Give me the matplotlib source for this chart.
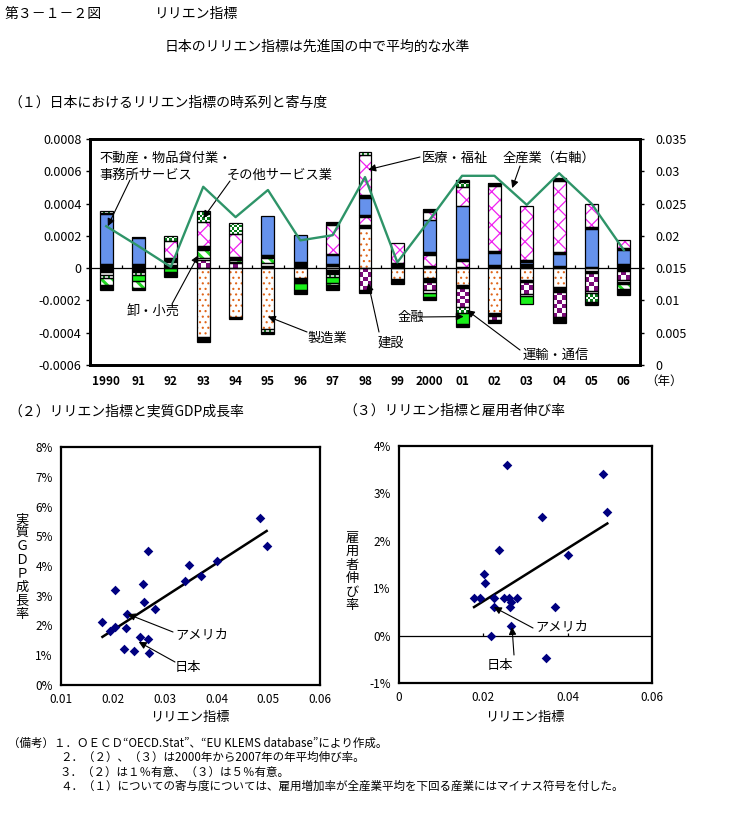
import numpy as np
import matplotlib
matplotlib.use('Agg')
import matplotlib.pyplot as plt
from matplotlib.colors import ListedColormap

plt.rcParams['font.family'] = ['Noto Sans CJK JP', 'DejaVu Sans']

# ---------------- data: chart (1) ----------------
years = ['1990', '91', '92', '93', '94', '95', '96', '97', '98', '99',
         '2000', '01', '02', '03', '04', '05', '06']
UNIT = 1e-5  # contributions below are in units of 1e-5

manufacturing = [0, 0, 0, -42.5, -30, -38, -6, -1, 24.6, -7, -6.3, -10.5, -28, -7.5, -11.6, -1.8, 0]
other_black1 = [-2.5, -1.5, 2, -3, -1.3, 1.5, -3, -2, 2, -1.5, -2, -2, -1.5, -1, -3, -1.5, -1.5]
construction = [0, 0, 0, 5, 3, 0, 0, -0.5, -13.3, 0, -5, -11.5, -2.7, -7.5, -15.5, -11, -6]
other_white = [-1.8, -1, 2, 1, 1, 1.5, -0.5, 1.5, 0, 0, -2, 0, 0, -1.5, 0, -1, -0.8]
transport = [-2, -2, 0, 0, 0, -1.4, 1, -2, -0.8, 0, 0, -3.7, 0, 1, 0, -5.6, -0.8]
finance = [0, -3.5, -2.5, 0, 0, 0, -4, -3.5, 0, -1, -2.5, -6.6, 0, -4.9, 0, 0, -0.8]
trade = [-4, -4, 0, 5.5, 1, 3, 0, -1.5, 0, 0, 0, 0, 0, 0, 0, 0, -3]
other_black2 = [-3, -1.7, -2.9, 2, 2, 2, -2.5, -3, -1, -0.5, 1.2, 1, -1.8, 0, -3.9, -1.7, -3.5]
other_pink = [0, 0, 0, 0, 0, 0, 0, 0, 4.8, 0, 6.8, 3.5, 0, 0, 0, 0, 0]
other_black3 = [2.5, 2.5, 0, 0, 0, 0, 3, 1, 1.5, 3.3, 2, 1, 2, 1.5, 1.2, 0.8, 2.5]
real_estate = [31, 16, 0, 0, 0, 24, 16.5, 5.5, 10.4, 0, 20, 33, 7.2, 1.5, 7.5, 23.4, 8.7]
other_black4 = [0.8, 0, 2, 0, 0, 0, 0, 1, 2, 0, -1.7, -2, 1.5, 1, 1.5, 1, 1]
health = [0, 0, 11, 15, 14.3, 0, 0, 17.5, 25, 12, 5, 12, 40.2, 33.5, 43.5, 14.3, 5.2]
other_services = [1.2, 0, 3, 7, 6.7, 0, 0, 0, 1.5, 0, 0, 3, 0, 0, 0, 0, 0]
other_black5 = [0, 1, 0, 0, 0, -1.3, 0, 2, 0, 0, 1.5, 1, 1.7, 0, 2, 0, 0]

all_industry = [0.0215, 0.0184, 0.0152, 0.0276, 0.0229, 0.0271, 0.0193, 0.0201, 0.0291,
                0.0159, 0.0225, 0.0293, 0.0293, 0.0248, 0.0297, 0.0250, 0.0178]

# ---------------- data: chart (2) ----------------
lilien_gdp = [0.0180, 0.0195, 0.0205, 0.0204, 0.0221, 0.0226, 0.0228, 0.0240, 0.0252, 0.0258, 0.0260,
              0.0267, 0.0267, 0.0269, 0.0282, 0.0340, 0.0348, 0.0370, 0.0401, 0.0484, 0.0497]
gdp_growth = [2.11, 1.83, 1.94, 3.20, 1.20, 1.91, 2.38, 1.14, 1.62, 3.39, 2.78,
              1.54, 4.50, 1.07, 2.55, 3.50, 4.03, 3.68, 4.18, 5.61, 4.68]

# ---------------- data: chart (3) ----------------
lilien_emp = [0.0178, 0.0193, 0.0202, 0.0205, 0.0219, 0.0226, 0.0225, 0.0238, 0.0249, 0.0257, 0.0260,
              0.0265, 0.0263, 0.0265, 0.0281, 0.0340, 0.0348, 0.0369, 0.0400, 0.0483, 0.0494]
emp_growth = [0.79, 0.79, 1.31, 1.12, 0.00, 0.79, 0.60, 1.80, 0.79, 3.60, 0.79,
              0.71, 0.60, 0.21, 0.79, 2.50, -0.48, 0.60, 1.71, 3.41, 2.61]

# ---------------- figure ----------------
W_PX, H_PX = 731, 832
fig = plt.figure(figsize=(W_PX / 100, H_PX / 100), dpi=100)


def fx(px):
    return px / W_PX


def fy(py):
    return 1 - py / H_PX


def ax_rect(left, top, right, bottom):
    return [fx(left), fy(bottom), (right - left) / W_PX, (bottom - top) / H_PX]


def add_checker(ax, rect, color, cell_px):
    x0, y0 = rect.get_x(), rect.get_y()
    w, h = rect.get_width(), rect.get_height()
    (px0, py0), (px1, py1) = ax.transData.transform([(x0, y0), (x0 + w, y0 + h)])
    nc = max(1, int(round(abs(px1 - px0) / cell_px)))
    nr = max(1, int(round(abs(py1 - py0) / cell_px)))
    arr = np.add.outer(np.arange(nr), np.arange(nc)) % 2
    ymin, ymax = sorted([y0, y0 + h])
    im = ax.imshow(arr, cmap=ListedColormap(['white', color]), vmin=0, vmax=1,
                   extent=(x0, x0 + w, ymin, ymax), interpolation='nearest',
                   aspect='auto', zorder=2.5)
    im.set_clip_path(rect)


# ---------------- chart (1) ----------------
ax1 = fig.add_axes(ax_rect(90, 139, 640, 365))
n = len(years)
xpos = np.arange(n)
ax1.set_xlim(-0.5, n - 0.5)
ax1.set_ylim(-0.0006, 0.0008)
ax1.set_autoscale_on(False)

styles = [
    (manufacturing, dict(kind='hatch', hatch='...', color='#E0661A', lw=0.8)),
    (other_black1, dict(kind='solid', color='black')),
    (construction, dict(kind='checker', color='#7A0A78', cell=4.0)),
    (other_white, dict(kind='solid', color='white')),
    (transport, dict(kind='checker', color='#0A7A1A', cell=2.4)),
    (finance, dict(kind='solid', color='#19F019')),
    (trade, dict(kind='hatch', hatch='\\\\\\', color='#22D822', lw=2.2)),
    (other_black2, dict(kind='solid', color='black')),
    (other_pink, dict(kind='hatch', hatch='xx', color='#F020F0', lw=0.9)),
    (other_black3, dict(kind='solid', color='black')),
    (real_estate, dict(kind='solid', color='#6692EC')),
    (other_black4, dict(kind='solid', color='black')),
    (health, dict(kind='hatch', hatch='xx', color='#F020F0', lw=0.9)),
    (other_services, dict(kind='checker', color='#0A7A1A', cell=2.4)),
    (other_black5, dict(kind='solid', color='black')),
]

bw = 0.4
pos_cum = np.zeros(n)
neg_cum = np.zeros(n)
for vals, st in styles:
    v = np.array(vals, dtype=float) * UNIT
    bottom = np.where(v >= 0, pos_cum, neg_cum)
    m = v != 0
    if m.any():
        if st['kind'] == 'solid':
            ax1.bar(xpos[m], v[m], bottom=bottom[m], width=bw, color=st['color'],
                    linewidth=0, zorder=2)
        elif st['kind'] == 'hatch':
            with plt.rc_context({'hatch.linewidth': st['lw']}):
                ax1.bar(xpos[m], v[m], bottom=bottom[m], width=bw, color='white',
                        edgecolor=st['color'], hatch=st['hatch'], linewidth=0, zorder=2)
        else:
            bars = ax1.bar(xpos[m], v[m], bottom=bottom[m], width=bw, color=st['color'],
                           linewidth=0, zorder=2)
            for r in bars:
                add_checker(ax1, r, st['color'], st['cell'])
        ax1.bar(xpos[m], v[m], bottom=bottom[m], width=bw, fill=False,
                edgecolor='black', linewidth=0.9, zorder=3)
    pos_cum += np.where(v > 0, v, 0)
    neg_cum += np.where(v < 0, v, 0)

ax1.axhline(0, color='black', lw=0.9, zorder=4)
ax1.vlines(xpos[:-1] + 0.5, 0, 0.00002, color='black', lw=0.9, zorder=4)
ax1.set_xlim(-0.5, n - 0.5)
ax1.set_ylim(-0.0006, 0.0008)
yt = [-0.0006, -0.0004, -0.0002, 0, 0.0002, 0.0004, 0.0006, 0.0008]
ax1.set_yticks(yt)
ax1.set_yticklabels(['-0.0006', '-0.0004', '-0.0002', '0', '0.0002', '0.0004', '0.0006', '0.0008'],
                    fontsize=9)
ax1.set_xticks(xpos)
ax1.set_xticklabels(years, fontsize=8.5, fontweight='bold')
ax1.tick_params(axis='x', length=0, pad=7)
ax1.tick_params(axis='y', direction='out', length=3, width=1, pad=3)
for s in ax1.spines.values():
    s.set_linewidth(2.0)

ax2 = ax1.twinx()
ax2.plot(xpos, all_industry, color='#2E9468', lw=1.7, zorder=5)
ax2.set_ylim(0, 0.035)
rt = [0, 0.005, 0.01, 0.015, 0.02, 0.025, 0.03, 0.035]
ax2.set_yticks(rt)
ax2.set_yticklabels(['0', '0.005', '0.01', '0.015', '0.02', '0.025', '0.03', '0.035'], fontsize=9)
ax2.tick_params(axis='y', direction='out', length=3, width=1, pad=8)
for s in ax2.spines.values():
    s.set_linewidth(2.0)
fig.text(fx(645), fy(381), '（年）', fontsize=9, va='center', ha='left')


def arrow(ax, tip, start_px):
    ax.annotate('', xy=tip, xycoords='data', xytext=(start_px[0], H_PX - start_px[1]),
                textcoords='figure pixels',
                arrowprops=dict(arrowstyle='-|>', color='black', lw=0.8,
                                mutation_scale=11, shrinkA=0, shrinkB=0),
                zorder=6)


lab_fs = 9.5
fig.text(fx(99), fy(158), '不動産・物品貸付業・', fontsize=lab_fs, va='center')
fig.text(fx(99), fy(175), '事務所サービス', fontsize=lab_fs, va='center')
arrow(ax1, (0.05, 0.00026), (130, 180))
fig.text(fx(227), fy(175), 'その他サービス業', fontsize=lab_fs, va='center')
arrow(ax1, (3.0, 0.00031), (230, 181))
fig.text(fx(127), fy(312), '卸・小売', fontsize=lab_fs, va='center')
arrow(ax1, (2.85, 0.00008), (172, 304))
fig.text(fx(307), fy(338), '製造業', fontsize=lab_fs, va='center')
arrow(ax1, (5.0, -0.0003), (307, 332))
fig.text(fx(378), fy(343), '建設', fontsize=lab_fs, va='center')
arrow(ax1, (8.1, -0.000093), (379, 332))
fig.text(fx(422), fy(158), '医療・福祉', fontsize=lab_fs, va='center')
arrow(ax1, (8.1, 0.00061), (420, 157))
fig.text(fx(503), fy(158), '全産業（右軸）', fontsize=lab_fs, va='center')
arrow(ax1, (12.55, 0.000496), (520, 166))
fig.text(fx(397), fy(317), '金融', fontsize=lab_fs, va='center')
arrow(ax1, (11.05, -0.0003), (420, 317))
fig.text(fx(523), fy(355), '運輸・通信', fontsize=lab_fs, va='center')
arrow(ax1, (11.15, -0.00026), (520, 350))

# ---------------- chart (2) ----------------
axg = fig.add_axes(ax_rect(61, 447, 320, 685))
axg.scatter(lilien_gdp, gdp_growth, marker='D', s=24, color='#000080', zorder=3, linewidths=0)
cg = np.polyfit(lilien_gdp, gdp_growth, 1)
xs = np.array([min(lilien_gdp), max(lilien_gdp)])
axg.plot(xs, np.polyval(cg, xs), color='black', lw=1.8, zorder=2)
axg.set_xlim(0.01, 0.06)
axg.set_ylim(0, 8)
axg.set_xticks([0.01, 0.02, 0.03, 0.04, 0.05, 0.06])
axg.set_xticklabels(['0.01', '0.02', '0.03', '0.04', '0.05', '0.06'], fontsize=8.5)
axg.set_yticks(range(0, 9))
axg.set_yticklabels([f'{i}%' for i in range(0, 9)], fontsize=8.5)
axg.tick_params(length=0)
axg.tick_params(axis='x', pad=6)
axg.tick_params(axis='y', pad=6)
for s in axg.spines.values():
    s.set_linewidth(1.6)
fig.text(fx(190), fy(717), 'リリエン指標', fontsize=9.5, ha='center', va='center')
fig.text(fx(22), fy(567), '\n'.join('実質ＧＤＰ成長率'), fontsize=9.5, ha='center', va='center',
         linespacing=1.05)
fig.text(fx(175), fy(635), 'アメリカ', fontsize=lab_fs, va='center')
arrow(axg, (0.0229, 2.38), (173, 632))
fig.text(fx(175), fy(667), '日本', fontsize=lab_fs, va='center')
arrow(axg, (0.0250, 1.45), (175, 662))

# ---------------- chart (3) ----------------
axe = fig.add_axes(ax_rect(399, 446, 652, 683))
axe.scatter(lilien_emp, emp_growth, marker='D', s=24, color='#000080', zorder=3, linewidths=0)
ce = np.polyfit(lilien_emp, emp_growth, 1)
xs3 = np.array([min(lilien_emp), max(lilien_emp)])
axe.plot(xs3, np.polyval(ce, xs3), color='black', lw=1.8, zorder=2)
axe.set_xlim(0, 0.06)
axe.set_ylim(-1, 4)
axe.axhline(0, color='black', lw=0.9, zorder=1)
axe.vlines([0.02, 0.04], 0, 0.06, color='black', lw=0.9, zorder=1)
axe.set_xticks([0, 0.02, 0.04, 0.06])
axe.set_xticklabels(['0', '0.02', '0.04', '0.06'], fontsize=8.5)
axe.set_yticks(range(-1, 5))
axe.set_yticklabels([f'{i}%' for i in range(-1, 5)], fontsize=8.5)
axe.tick_params(length=0)
axe.tick_params(axis='x', pad=6)
axe.tick_params(axis='y', pad=6)
for s in axe.spines.values():
    s.set_linewidth(1.6)
fig.text(fx(525), fy(717), 'リリエン指標', fontsize=9.5, ha='center', va='center')
fig.text(fx(352), fy(572), '\n'.join('雇用者伸び率'), fontsize=9.5, ha='center', va='center',
         linespacing=1.05)
fig.text(fx(535), fy(627), 'アメリカ', fontsize=lab_fs, va='center')
arrow(axe, (0.0225, 0.60), (533, 628))
fig.text(fx(487), fy(665), '日本', fontsize=lab_fs, va='center')
arrow(axe, (0.0268, 0.18), (514, 655))

# ---------------- titles and notes ----------------
fig.text(fx(5), fy(14), '第３－１－２図', fontsize=10, va='center')
fig.text(fx(155), fy(14), 'リリエン指標', fontsize=10, va='center')
fig.text(fx(165), fy(47), '日本のリリエン指標は先進国の中で平均的な水準', fontsize=10, va='center')
fig.text(fx(8), fy(103), '（１）日本におけるリリエン指標の時系列と寄与度', fontsize=10, va='center')
fig.text(fx(8), fy(411), '（２）リリエン指標と実質GDP成長率', fontsize=10, va='center')
fig.text(fx(343), fy(411), '（３）リリエン指標と雇用者伸び率', fontsize=10, va='center')

note_fs = 8.3
fig.text(fx(8), fy(743), '（備考）１．ＯＥＣＤ“OECD.Stat”、“EU KLEMS database”により作成。',
         fontsize=note_fs, va='center')
fig.text(fx(60), fy(757), '２．（２）、（３）は2000年から2007年の年平均伸び率。', fontsize=note_fs, va='center')
fig.text(fx(60), fy(772), '３．（２）は１％有意、（３）は５％有意。', fontsize=note_fs, va='center')
fig.text(fx(60), fy(786), '４．（１）についての寄与度については、雇用増加率が全産業平均を下回る産業にはマイナス符号を付した。',
         fontsize=note_fs, va='center')

fig.savefig('out.png', dpi=100)
